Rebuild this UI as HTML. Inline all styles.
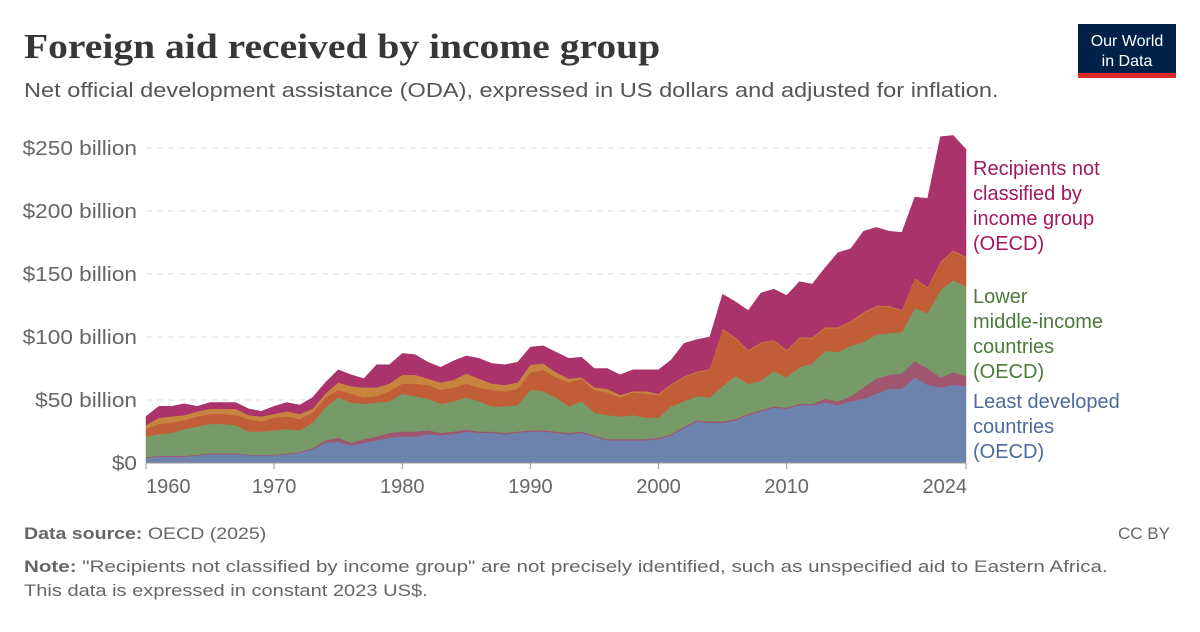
<!DOCTYPE html>
<html><head><meta charset="utf-8"><style>
body{margin:0;background:#fff;width:1200px;height:627px;overflow:hidden;font-family:"Liberation Sans",sans-serif;}
svg text{font-family:"Liberation Sans",sans-serif;}
</style></head><body>
<svg id="chart" width="1200" height="627">
<text class="st" data-s="1.13" x="24" y="58" font-weight="bold" font-size="35" fill="#373737" style="font-family:'Liberation Serif',serif">Foreign aid received by income group</text>
<text class="st" data-s="1.15" x="24" y="97" font-size="20.5" fill="#555">Net official development assistance (ODA), expressed in US dollars and adjusted for inflation.</text>
<g>
<rect x="1078" y="24" width="98" height="50" fill="#002147"/>
<rect x="1078" y="73" width="98" height="5" fill="#dc2a2a"/>
<text x="1127" y="46" text-anchor="middle" font-size="16" fill="#fff">Our World</text>
<text x="1127" y="66" text-anchor="middle" font-size="16" fill="#fff">in Data</text>
</g>
<g id="grid"></g>
<g id="areas"></g>
<g id="axes"></g>
<g font-size="20">
<text x="973" y="175" fill="#a2185c"><tspan x="973">Recipients not</tspan><tspan x="973" dy="25">classified by</tspan><tspan x="973" dy="25">income group</tspan><tspan x="973" dy="25">(OECD)</tspan></text>
<text x="973" y="303" fill="#4c7a3b"><tspan x="973">Lower</tspan><tspan x="973" dy="25">middle-income</tspan><tspan x="973" dy="25">countries</tspan><tspan x="973" dy="25">(OECD)</tspan></text>
<text x="973" y="408" fill="#4c6a9c"><tspan x="973">Least developed</tspan><tspan x="973" dy="25">countries</tspan><tspan x="973" dy="25">(OECD)</tspan></text>
</g>
<text class="st" data-s="1.15" x="24" y="539" font-size="17" fill="#666"><tspan font-weight="bold">Data source:</tspan> OECD (2025)</text>
<text x="1170" y="539" font-size="17" fill="#666" text-anchor="end">CC BY</text>
<text class="st" data-s="1.21" x="24" y="572" font-size="17" fill="#666"><tspan font-weight="bold">Note:</tspan> "Recipients not classified by income group" are not precisely identified, such as unspecified aid to Eastern Africa.</text>
<text class="st" data-s="1.18" x="24" y="596" font-size="17" fill="#666">This data is expressed in constant 2023 US$.</text>
</svg>
<script>
const startYear = 1960;
const endYear = 2024;
const yTicks = [0, 50, 100, 150, 200, 250];
const yTickLabels = ["$0", "$50 billion", "$100 billion", "$150 billion", "$200 billion", "$250 billion"];
const xTicks = [1960, 1970, 1980, 1990, 2000, 2010, 2024];
const leastDeveloped = [4,5,5,5,6,7,7,7,6,6,6,7,8,11,16,17,14,16,18,20,21,21,23,22,23,25,24,24,23,24,25,25,24,23,24,21,18,18,18,18,19,22,28,33,32,32,34,38,41,44,43,46,46,48,46,49,51,55,59,59,68,62,60,62,61];
const lowIncome = [0.7,0.7,0.7,0.7,0.7,0.7,0.7,0.7,0.7,0.7,0.7,0.7,0.7,1,2,3,2,3,3,4,4,4,3,2,2,1.5,1,1,1,1,1,1,1,1,1,1,1,1,1,1,1,1,1,1,1,1,1,1,1,1,1,1,1,3,3,4,9,12,11,12,13,13,8,10,8];
const lowerMiddle = [16.3,17.3,18.3,21.3,22.3,23.3,23.3,22.3,18.3,18.3,19.3,19.3,17.3,20,26,32,32,28,27,25,30,28,25,23,24,25.5,24,20,21,21,32,31,27,21,24,18,19,18,19,17,16,22,20,19,19,28,34,24,23,28,24,29,32,38,39,40,36,35,33,33,42,44,69,73,71];
const upperMiddle = [6,8,8,7,8,8,8,8,10,8,10,10,9,8,8,6,7,5,5,8,8,10,11,11,11,11,11,13,12,13,14,17,16,19,18,18,18,15,18,19,18,17,19,19,22,45,30,26,30,24,21,23,20,18,19,19,23,22,21,17,23,20,22,23,23];
const highIncome = [3,5,5,4,4,4,4,5,3,4,3,4,4,3,3,6,6,8,7,6,7,7,5,6,6,8,7,5,5,5,6,5,4,3,1,2,3,2,1,2,1,0.7,0.7,0.7,0.7,0.7,0.7,0.7,0.7,0.7,0.7,0.7,0.7,0.7,0.7,0.7,0.7,0.7,0.7,0.7,0.7,0.7,0.7,0.7,0.7];
const unclassified = [7,9,8,9,4,5,5,5,5,4,6,7,7,9,9,10,9,7,18,15,17,16,13,12,15,14,16,16,16,16,14,14,16,16,16,15,16,16,17,17,19,19.3,26.3,25.3,25.3,27.3,28.3,31.3,39.3,40.3,43.3,44.3,42.3,47.3,59.3,57.3,64.3,62.3,59.3,61.3,64.3,70.3,99.3,91.3,85.3];

const NS="http://www.w3.org/2000/svg";
const X0=146,X1=966,Y0=463,Y250=148;
const xs=y=>X0+(y-startYear)*(X1-X0)/(endYear-startYear);
const ys=v=>Y0-v*(Y0-Y250)/250;
function mk(t,a,p){const e=document.createElementNS(NS,t);for(const k in a)e.setAttribute(k,a[k]);p.appendChild(e);return e;}
const grid=document.getElementById('grid'),axes=document.getElementById('axes'),areas=document.getElementById('areas');
yTicks.forEach((t,i)=>{
  if(t>0){const l=mk('line',{x1:X0,x2:X1,y1:ys(t),y2:ys(t),stroke:'#ddd','stroke-dasharray':'6,5'},grid);
  
  }
  const tx=mk('text',{x:137,y:ys(t)+7,'text-anchor':'end','font-size':'20',fill:'#666','class':'st','data-s':'1.13'},axes);
  tx.textContent=yTickLabels[i];
  
  
});
const series=[
 {d:leastDeveloped,c:'#6d83ad',n:'area-least-developed'},
 {d:lowIncome,c:'#a0566e',n:'area-low-income'},
 {d:lowerMiddle,c:'#779a69',n:'area-lower-middle'},
 {d:upperMiddle,c:'#c15e37',n:'area-upper-middle'},
 {d:highIncome,c:'#c8843f',n:'area-high-income'},
 {d:unclassified,c:'#a9336a',n:'area-unclassified'}];
const n=leastDeveloped.length;let base=new Array(n).fill(0);
series.forEach(s=>{
  const top=base.map((b,i)=>b+s.d[i]);
  let p='';
  for(let i=0;i<n;i++)p+=(i?'L':'M')+xs(startYear+i).toFixed(1)+','+ys(top[i]).toFixed(1);
  for(let i=n-1;i>=0;i--)p+='L'+xs(startYear+i).toFixed(1)+','+ys(base[i]).toFixed(1);
  const a=mk('path',{d:p+'Z',fill:s.c,stroke:s.c,'stroke-width':'0.5'},areas);
  
  
  base=top;
});
const ax=mk('line',{x1:X0,x2:X1,y1:Y0,y2:Y0,stroke:'#999'},axes);


xTicks.forEach(t=>{
  mk('line',{x1:xs(t),x2:xs(t),y1:Y0,y2:Y0+6,stroke:'#999'},axes);
  const anchor=t===endYear?'end':(t===startYear?'start':'middle');
  const tx=mk('text',{x:t===endYear?xs(t)+1:xs(t),y:493,'text-anchor':anchor,'font-size':'20',fill:'#666'},axes);
  tx.textContent=t;
  
  
});
document.querySelectorAll('text.st').forEach(e=>{
  const s=parseFloat(e.getAttribute('data-s'));
  const L=e.getComputedTextLength();
  e.setAttribute('textLength',(L*s).toFixed(1));
  e.setAttribute('lengthAdjust','spacingAndGlyphs');
});
</script>
</body></html>
